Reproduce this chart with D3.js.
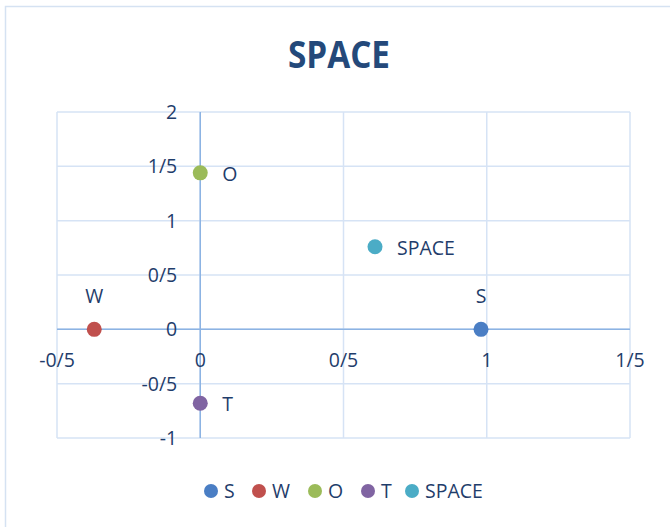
<!DOCTYPE html>
<html>
<head>
<meta charset="utf-8">
<script src="https://cdn.jsdelivr.net/npm/d3@7"></script>
<style>
  body { margin: 0; background: #fff; }
  text { font-family: "Open Sans", "Liberation Sans", sans-serif; }
</style>
</head>
<body>
<div id="chart"></div>
<script>
// data
var names = ["S", "W", "O", "T", "SPACE"];
var xValues = [0.98, -0.37, 0, 0, 0.61];
var yValues = [0, 0, 1.44, -0.68, 0.76];
var colors = ["#4a7ec4", "#c0504d", "#9bbb59", "#8064a2", "#4bacc6"];
var labelPos = ["top", "top", "right", "right", "right"];
var xTicks = [-0.5, 0, 0.5, 1, 1.5];
var yTicks = [-1, -0.5, 0, 0.5, 1, 1.5, 2];

var w = 670, h = 527;
var svg = d3.select("#chart").append("svg").attr("width", w).attr("height", h);

// outer chart border
svg.append("rect")
  .attr("x", 5.5).attr("y", 6.5).attr("width", 700).attr("height", 600)
  .attr("fill", "#fff").attr("stroke", "#d5e2f2").attr("stroke-width", 1.5);

var x = d3.scaleLinear().domain([-0.5, 1.5]).range([57, 630]);
var y = d3.scaleLinear().domain([-1, 2]).range([438, 112]);

// decimal separator shown as "/"
function fmt(v) { return String(v).replace(".", "/"); }

var grid = svg.append("g");
grid.selectAll(".gx").data(xTicks).enter().append("line")
  .attr("x1", function(d) { return x(d); }).attr("x2", function(d) { return x(d); })
  .attr("y1", y(-1)).attr("y2", y(2))
  .attr("stroke", "#d6e3f5").attr("stroke-width", 1.5);
grid.selectAll(".gy").data(yTicks).enter().append("line")
  .attr("x1", x(-0.5)).attr("x2", x(1.5))
  .attr("y1", function(d) { return y(d); }).attr("y2", function(d) { return y(d); })
  .attr("stroke", "#d6e3f5").attr("stroke-width", 1.5);

// main axes through zero
svg.append("line").attr("x1", x(-0.5)).attr("x2", x(1.5)).attr("y1", y(0)).attr("y2", y(0))
  .attr("stroke", "#8cb3e3").attr("stroke-width", 1.5);
svg.append("line").attr("x1", x(0)).attr("x2", x(0)).attr("y1", y(-1)).attr("y2", y(2))
  .attr("stroke", "#8cb3e3").attr("stroke-width", 1.5);

var textColor = "#1f3d6b";
var fs = 19.5;

svg.selectAll(".xl").data(xTicks).enter().append("text")
  .attr("x", function(d) { return x(d); })
  .attr("y", y(0) + 38)
  .attr("text-anchor", "middle")
  .attr("font-size", fs).attr("fill", textColor)
  .text(function(d) { return fmt(d); });

svg.selectAll(".yl").data(yTicks).enter().append("text")
  .attr("x", x(0) - 23)
  .attr("y", function(d) { return y(d) + 7; })
  .attr("text-anchor", "end")
  .attr("font-size", fs).attr("fill", textColor)
  .text(function(d) { return fmt(d); });

// title
svg.append("text")
  .attr("x", 288).attr("y", 68)
  .attr("font-size", 37).attr("font-weight", "bold")
  .attr("textLength", 102).attr("lengthAdjust", "spacingAndGlyphs")
  .attr("fill", "#24497a")
  .text("SPACE");

var data = names.map(function(n, i) {
  return {name: n, x: xValues[i], y: yValues[i], color: colors[i], pos: labelPos[i]};
});

svg.selectAll(".pt").data(data).enter().append("circle")
  .attr("cx", function(d) { return x(d.x); })
  .attr("cy", function(d) { return y(d.y); })
  .attr("r", 7.5)
  .attr("fill", function(d) { return d.color; });

svg.selectAll(".pl").data(data).enter().append("text")
  .attr("x", function(d) { return d.pos == "top" ? x(d.x) : x(d.x) + 22; })
  .attr("y", function(d) { return d.pos == "top" ? y(d.y) - 26 : y(d.y) + 8; })
  .attr("text-anchor", function(d) { return d.pos == "top" ? "middle" : "start"; })
  .attr("font-size", fs).attr("fill", textColor)
  .text(function(d) { return d.name; });

// legend
var legendX = [211, 259, 315, 368, 412];
var legend = svg.selectAll(".lg").data(data).enter().append("g")
  .attr("transform", function(d, i) { return "translate(" + legendX[i] + ",491)"; });
legend.append("circle").attr("r", 7).attr("fill", function(d) { return d.color; });
legend.append("text")
  .attr("x", 13).attr("y", 7)
  .attr("font-size", fs).attr("fill", textColor)
  .text(function(d) { return d.name; });
</script>
</body>
</html>
